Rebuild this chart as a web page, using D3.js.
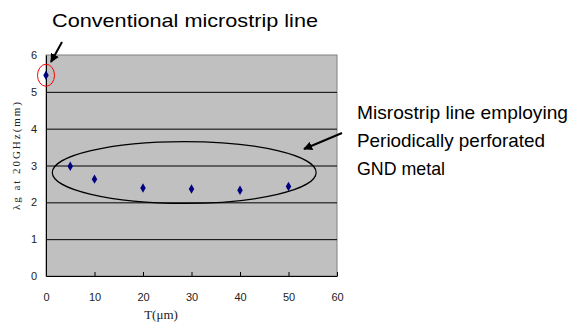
<!DOCTYPE html>
<html><head><meta charset="utf-8">
<script src="https://cdn.jsdelivr.net/npm/d3@7"></script>
<style>body{margin:0;background:#fff}svg{display:block}</style>
</head><body>
<svg id="c" width="580" height="325"></svg>
<script>
const tValues = [0, 5, 10, 20, 30, 40, 50];
const lambdaValues = [5.45, 2.98, 2.63, 2.39, 2.36, 2.33, 2.43];
const xTicks = [0, 10, 20, 30, 40, 50, 60];
const yTicks = [0, 1, 2, 3, 4, 5, 6];

const svg = d3.select("#c");
const L = 46, R = 337, T = 55, B = 276;
const x = d3.scaleLinear().domain([0, 60]).range([L, R]);
const y = d3.scaleLinear().domain([0, 6]).range([B, T]);

svg.append("rect").attr("x", L).attr("y", T).attr("width", R - L).attr("height", B - T)
  .attr("fill", "#c0c0c0").attr("stroke", "#808080").attr("stroke-width", 1);

// gridlines
svg.append("g").selectAll("line").data(yTicks.filter(d => d > 0 && d < 6)).join("line")
  .attr("x1", L).attr("x2", R).attr("y1", d => y(d) + 0.5).attr("y2", d => y(d) + 0.5)
  .attr("stroke", "#000").attr("stroke-width", 1);

// axes
const ya = svg.append("g").attr("transform", `translate(${L},0)`)
  .call(d3.axisLeft(y).tickValues(yTicks).tickFormat(d3.format("d")).tickSize(0).tickPadding(9));
ya.select(".domain").attr("stroke", "#000");
ya.selectAll("text").attr("font-family", "Liberation Sans, Arial, sans-serif").attr("font-size", 11).attr("fill", "#222");

const xa = svg.append("g").attr("transform", `translate(0,${B})`)
  .call(d3.axisBottom(x).tickValues(xTicks).tickFormat(d3.format("d")).tickSizeInner(-4).tickSizeOuter(0).tickPadding(17));
xa.select(".domain").attr("stroke", "#000");
xa.selectAll("line").attr("stroke", "#000");
xa.selectAll("text").attr("font-family", "Liberation Sans, Arial, sans-serif").attr("font-size", 11).attr("fill", "#222");

// axis titles
svg.append("text").attr("transform", `translate(20,156) rotate(-90)`)
  .attr("text-anchor", "middle").attr("font-family", "Liberation Serif, DejaVu Serif, serif")
  .attr("font-size", 11).attr("fill", "#222").attr("textLength", 108).attr("lengthAdjust", "spacing")
  .text("λg at 20GHz(mm)");
svg.append("text").attr("x", 161).attr("y", 319).attr("text-anchor", "middle")
  .attr("font-family", "Liberation Serif, DejaVu Serif, serif").attr("font-size", 13).attr("fill", "#222")
  .text("T(μm)");

// points
const diamond = d3.symbol().type(d3.symbolDiamond).size(26);
svg.append("g").selectAll("path").data(tValues.map((t, i) => [t, lambdaValues[i]])).join("path")
  .attr("d", diamond).attr("transform", d => `translate(${x(d[0])},${y(d[1])})`)
  .attr("fill", "#000080");

// annotations
svg.append("ellipse").attr("cx", x(0)).attr("cy", y(5.45)).attr("rx", 8.5).attr("ry", 11)
  .attr("fill", "none").attr("stroke", "#ff0000").attr("stroke-width", 1);
svg.append("ellipse").attr("cx", x(28.5)).attr("cy", y(2.81)).attr("rx", x(27.2) - x(0)).attr("ry", y(0) - y(0.84))
  .attr("fill", "none").attr("stroke", "#000").attr("stroke-width", 1.2);

const defs = svg.append("defs");
defs.append("marker").attr("id", "ah").attr("viewBox", "0 0 10 10").attr("refX", 9).attr("refY", 5)
  .attr("markerWidth", 4.5).attr("markerHeight", 4.5).attr("orient", "auto-start-reverse")
  .append("path").attr("d", "M0,0 L10,5 L0,10 z").attr("fill", "#000");

svg.append("line").attr("x1", 62).attr("y1", 42).attr("x2", 51).attr("y2", 62)
  .attr("stroke", "#000").attr("stroke-width", 2).attr("marker-end", "url(#ah)");
svg.append("line").attr("x1", 342).attr("y1", 133).attr("x2", 304).attr("y2", 149)
  .attr("stroke", "#000").attr("stroke-width", 2).attr("marker-end", "url(#ah)");

const font = "Liberation Sans, Arial, sans-serif";
svg.append("text").attr("x", 52).attr("y", 27).attr("font-family", font).attr("font-size", 19)
  .attr("fill", "#000").attr("textLength", 266).attr("lengthAdjust", "spacingAndGlyphs").text("Conventional microstrip line");
const lines = ["Misrostrip line employing", "Periodically perforated", "GND metal"];
const lens = [211, 188, 88];
svg.append("g").selectAll("text").data(lines).join("text")
  .attr("x", 357).attr("y", (d, i) => 119 + i * 28).attr("font-family", font).attr("font-size", 19)
  .attr("fill", "#000").attr("textLength", (d, i) => lens[i]).attr("lengthAdjust", "spacingAndGlyphs").text(d => d);
</script>
</body></html>
